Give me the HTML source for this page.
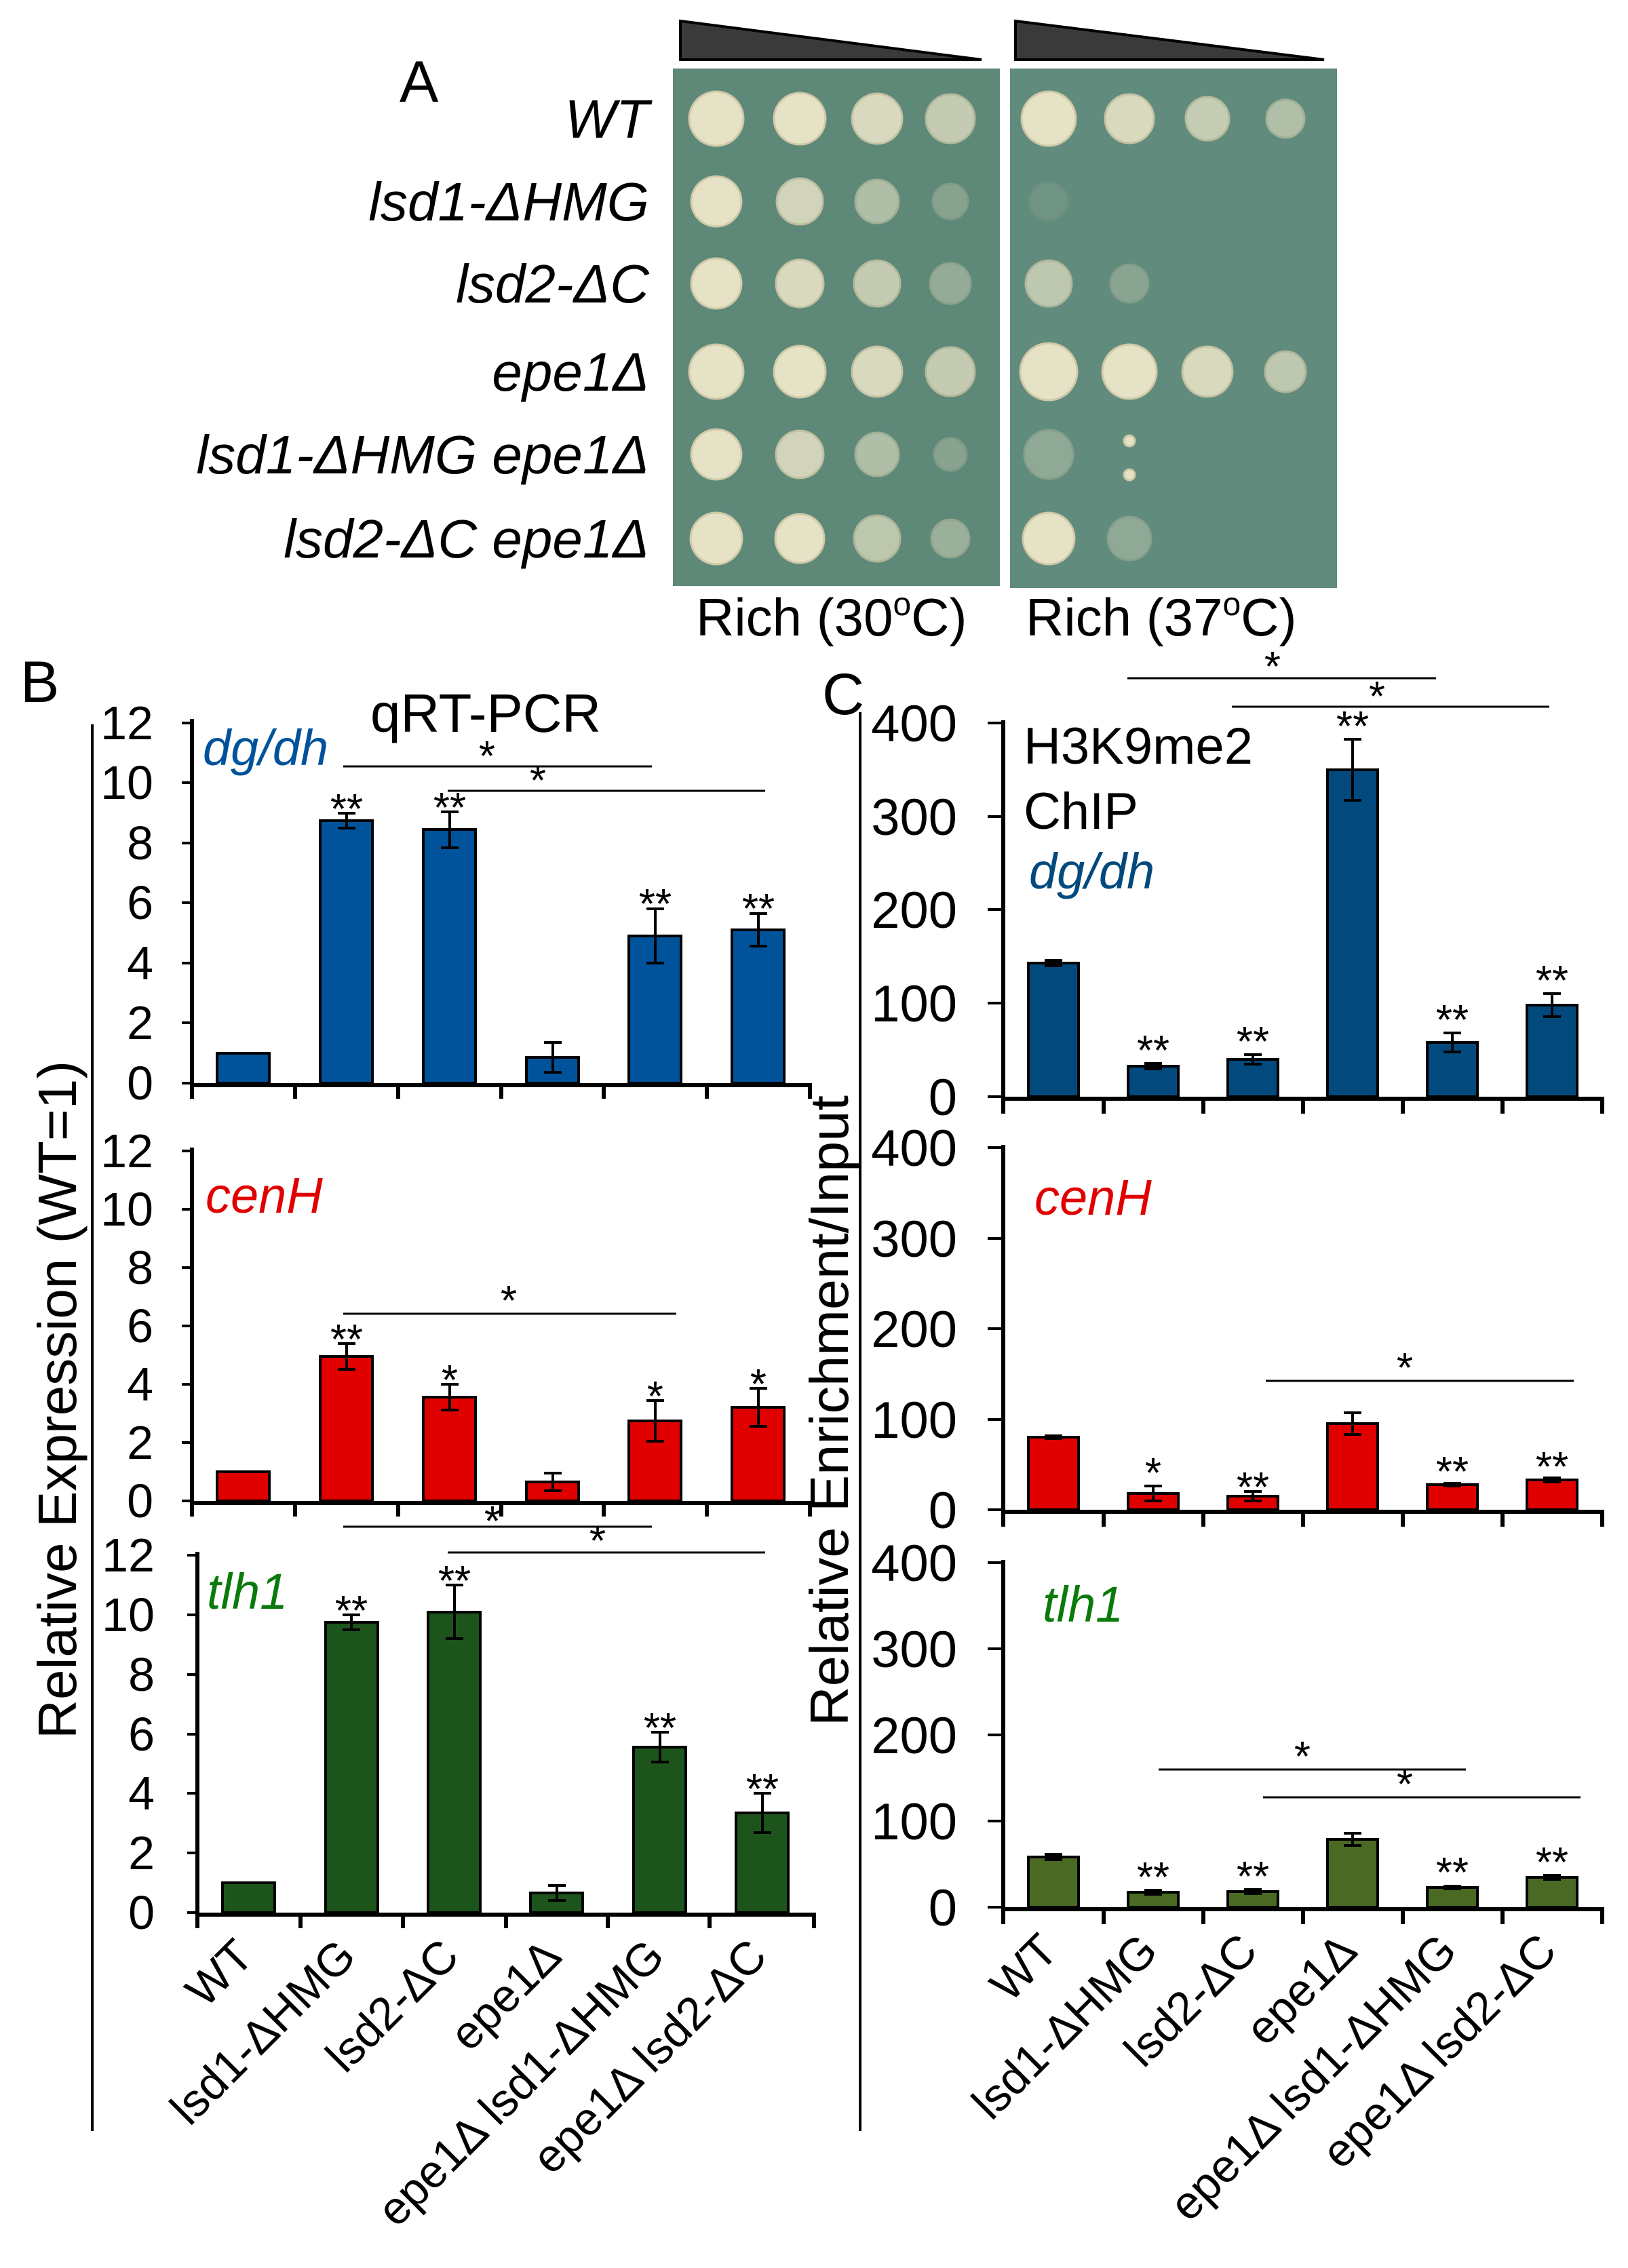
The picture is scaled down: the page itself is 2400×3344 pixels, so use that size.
<!DOCTYPE html>
<html><head><meta charset="utf-8"><style>
html,body{margin:0;padding:0;background:#fff;}
svg{display:block;font-family:"Liberation Sans",Arial,sans-serif;}
</style></head><body>
<svg width="2400" height="3344" viewBox="0 0 2400 3344" xmlns="http://www.w3.org/2000/svg">
<!-- Panel A -->
<text x="589" y="150" font-size="86">A</text>
<polygon points="1003,31 1003,88 1447,88" fill="#3a3a3a" stroke="#000" stroke-width="4"/>
<polygon points="1497,31 1497,88 1952,88" fill="#3a3a3a" stroke="#000" stroke-width="4"/>
<rect x="992" y="101" width="482" height="763" fill="#5e8878"/>
<rect x="1489" y="101" width="482" height="766" fill="#618b7c"/>
<g font-size="80" font-style="italic" text-anchor="end">
<text x="957" y="203">WT</text>
<text x="957" y="325">lsd1-ΔHMG</text>
<text x="957" y="446">lsd2-ΔC</text>
<text x="957" y="576">epe1Δ</text>
<text x="957" y="698">lsd1-ΔHMG epe1Δ</text>
<text x="957" y="822">lsd2-ΔC epe1Δ</text>
</g>
<g fill="#e6e2c6" stroke="#cfc9a8" stroke-width="3">
<circle cx="1056" cy="175" r="40"/><circle cx="1179" cy="175" r="38"/><circle cx="1293" cy="175" r="37" opacity="0.9"/><circle cx="1401" cy="175" r="36" opacity="0.75"/>
<circle cx="1056" cy="297" r="37"/><circle cx="1179" cy="297" r="34" opacity="0.85"/><circle cx="1293" cy="297" r="32" opacity="0.6"/><circle cx="1401" cy="297" r="26" opacity="0.3"/>
<circle cx="1056" cy="418" r="37"/><circle cx="1179" cy="418" r="35" opacity="0.9"/><circle cx="1293" cy="418" r="34" opacity="0.75"/><circle cx="1401" cy="418" r="30" opacity="0.4"/>
<circle cx="1056" cy="548" r="40"/><circle cx="1179" cy="548" r="38"/><circle cx="1293" cy="548" r="37" opacity="0.9"/><circle cx="1401" cy="548" r="36" opacity="0.75"/>
<circle cx="1056" cy="670" r="37"/><circle cx="1179" cy="670" r="35" opacity="0.85"/><circle cx="1293" cy="670" r="32" opacity="0.6"/><circle cx="1401" cy="670" r="24" opacity="0.3"/>
<circle cx="1056" cy="794" r="38"/><circle cx="1179" cy="794" r="36"/><circle cx="1293" cy="794" r="34" opacity="0.7"/><circle cx="1401" cy="794" r="28" opacity="0.45"/>
<circle cx="1546" cy="175" r="40"/><circle cx="1665" cy="175" r="36" opacity="0.9"/><circle cx="1780" cy="175" r="32" opacity="0.75"/><circle cx="1895" cy="175" r="28" opacity="0.6"/>
<circle cx="1546" cy="297" r="28" opacity="0.1"/>
<circle cx="1546" cy="418" r="34" opacity="0.7"/><circle cx="1665" cy="418" r="28" opacity="0.3"/>
<circle cx="1546" cy="548" r="42"/><circle cx="1665" cy="548" r="40"/><circle cx="1780" cy="548" r="37" opacity="0.9"/><circle cx="1895" cy="548" r="30" opacity="0.7"/>
<circle cx="1546" cy="670" r="36" opacity="0.35"/><circle cx="1665" cy="650" r="8"/><circle cx="1665" cy="700" r="8"/>
<circle cx="1546" cy="794" r="38"/><circle cx="1665" cy="794" r="32" opacity="0.35"/>
</g>
<text x="1026" y="937" font-size="78">Rich (30<tspan font-size="48" dy="-30">o</tspan><tspan dy="30">C)</tspan></text>
<text x="1512" y="937" font-size="78">Rich (37<tspan font-size="48" dy="-30">o</tspan><tspan dy="30">C)</tspan></text>

<text x="30" y="1035" font-size="86">B</text>
<text x="1212" y="1053" font-size="86">C</text>

<line x1="136" y1="1068" x2="136" y2="3142" stroke="#000" stroke-width="4"/>
<line x1="1268" y1="1050" x2="1268" y2="3142" stroke="#000" stroke-width="4"/>
<text transform="translate(112,2064) rotate(-90)" font-size="80" text-anchor="middle" textLength="1000" lengthAdjust="spacingAndGlyphs">Relative Expression (WT=1)</text>
<text transform="translate(1250,2080) rotate(-90)" font-size="80" text-anchor="middle" textLength="930" lengthAdjust="spacingAndGlyphs">Relative Enrichment/Input</text>

<!-- ===== B1 ===== -->
<text x="546" y="1079" font-size="80" textLength="340" lengthAdjust="spacingAndGlyphs">qRT-PCR</text>
<text x="299" y="1128" font-size="74" font-style="italic" fill="#00539b">dg/dh</text>
<g stroke="#000" stroke-width="4" fill="#00539b">
<rect x="320" y="1553" width="77" height="44"/>
<rect x="472" y="1210" width="77" height="387"/>
<rect x="624" y="1223" width="77" height="374"/>
<rect x="776" y="1559" width="77" height="38"/>
<rect x="927" y="1380" width="77" height="217"/>
<rect x="1079" y="1371" width="77" height="226"/>
</g>
<g stroke="#000" stroke-width="4" fill="none">
<path d="M511 1199V1221M498 1199H524M498 1221H524"/>
<path d="M663 1197V1250M650 1197H676M650 1250H676"/>
<path d="M815 1537V1581M802 1537H828M802 1581H828"/>
<path d="M966 1340V1420M953 1340H979M953 1420H979"/>
<path d="M1118 1347V1395M1105 1347H1131M1105 1395H1131"/>
<path d="M283 1060V1600H1194" stroke-width="6"/>
<path d="M268 1066H283M268 1154H283M268 1243H283M268 1331H283M268 1420H283M268 1508H283M268 1597H283"/>
<path d="M283 1597V1620M435 1597V1620M587 1597V1620M739 1597V1620M890 1597V1620M1042 1597V1620M1194 1597V1620" stroke-width="6"/>
<path d="M506 1130H961M660 1166H1128" stroke-width="3"/>
</g>
<g font-size="70" text-anchor="end">
<text x="226" y="1090">12</text><text x="226" y="1178">10</text><text x="226" y="1267">8</text><text x="226" y="1355">6</text><text x="226" y="1444">4</text><text x="226" y="1532">2</text><text x="226" y="1621">0</text>
</g>
<g font-size="62" text-anchor="middle">
<text x="511" y="1214">**</text><text x="663" y="1212">**</text><text x="966" y="1354">**</text><text x="1118" y="1361">**</text>
<text x="718" y="1136">*</text><text x="793" y="1172">*</text>
</g>

<!-- ===== B2 ===== -->
<text x="303" y="1788" font-size="74" font-style="italic" fill="#e00000">cenH</text>
<g stroke="#000" stroke-width="4" fill="#e00000">
<rect x="320" y="2170" width="77" height="43"/>
<rect x="472" y="2000" width="77" height="213"/>
<rect x="624" y="2060" width="77" height="153"/>
<rect x="776" y="2185" width="77" height="28"/>
<rect x="927" y="2095" width="77" height="118"/>
<rect x="1079" y="2075" width="77" height="138"/>
</g>
<g stroke="#000" stroke-width="4" fill="none">
<path d="M511 1981V2019M498 1981H524M498 2019H524"/>
<path d="M663 2041V2079M650 2041H676M650 2079H676"/>
<path d="M815 2172V2198M802 2172H828M802 2198H828"/>
<path d="M966 2065V2125M953 2065H979M953 2125H979"/>
<path d="M1118 2047V2103M1105 2047H1131M1105 2103H1131"/>
<path d="M283 1692V2216H1194" stroke-width="6"/>
<path d="M268 1697H283M268 1783H283M268 1869H283M268 1955H283M268 2041H283M268 2127H283M268 2213H283"/>
<path d="M283 2213V2236M435 2213V2236M587 2213V2236M739 2213V2236M890 2213V2236M1042 2213V2236M1194 2213V2236" stroke-width="6"/>
<path d="M506 1937H997" stroke-width="3"/>
</g>
<g font-size="70" text-anchor="end">
<text x="226" y="1721">12</text><text x="226" y="1807">10</text><text x="226" y="1893">8</text><text x="226" y="1979">6</text><text x="226" y="2065">4</text><text x="226" y="2151">2</text><text x="226" y="2237">0</text>
</g>
<g font-size="62" text-anchor="middle">
<text x="511" y="1996">**</text><text x="663" y="2056">*</text><text x="966" y="2080">*</text><text x="1118" y="2062">*</text>
<text x="750" y="1939">*</text>
</g>

<!-- ===== B3 ===== -->
<text x="305" y="2372" font-size="74" font-style="italic" fill="#0a7a0a">tlh1</text>
<g stroke="#000" stroke-width="4" fill="#1d541b">
<rect x="328" y="2776" width="77" height="44"/>
<rect x="480" y="2392" width="77" height="428"/>
<rect x="631" y="2377" width="77" height="443"/>
<rect x="782" y="2791" width="77" height="29"/>
<rect x="934" y="2576" width="77" height="244"/>
<rect x="1085" y="2673" width="77" height="147"/>
</g>
<g stroke="#000" stroke-width="4" fill="none">
<path d="M518 2381V2403M505 2381H531M505 2403H531"/>
<path d="M670 2337V2416M657 2337H683M657 2416H683"/>
<path d="M821 2780V2802M808 2780H834M808 2802H834"/>
<path d="M973 2554V2598M960 2554H986M960 2598H986"/>
<path d="M1124 2644V2702M1111 2644H1137M1111 2702H1137"/>
<path d="M291 2288V2823H1200" stroke-width="6"/>
<path d="M276 2293H291M276 2381H291M276 2469H291M276 2557H291M276 2644H291M276 2732H291M276 2820H291"/>
<path d="M291 2820V2843M443 2820V2843M594 2820V2843M746 2820V2843M896 2820V2843M1046 2820V2843M1200 2820V2843" stroke-width="6"/>
<path d="M506 2251H961M660 2289H1128" stroke-width="3"/>
</g>
<g font-size="70" text-anchor="end">
<text x="228" y="2317">12</text><text x="228" y="2405">10</text><text x="228" y="2493">8</text><text x="228" y="2581">6</text><text x="228" y="2668">4</text><text x="228" y="2756">2</text><text x="228" y="2844">0</text>
</g>
<g font-size="62" text-anchor="middle">
<text x="518" y="2396">**</text><text x="670" y="2352">**</text><text x="973" y="2569">**</text><text x="1124" y="2659">**</text>
<text x="726" y="2264">*</text><text x="881" y="2293">*</text>
</g>
<g font-size="68" text-anchor="end">
<text transform="translate(377,2888) rotate(-45)">WT</text>
<text transform="translate(528,2888) rotate(-45)">lsd1-ΔHMG</text>
<text transform="translate(680,2888) rotate(-45)">lsd2-ΔC</text>
<text transform="translate(831,2888) rotate(-45)">epe1Δ</text>
<text transform="translate(983,2888) rotate(-45)">epe1Δ lsd1-ΔHMG</text>
<text transform="translate(1134,2888) rotate(-45)">epe1Δ lsd2-ΔC</text>
</g>

<!-- ===== C1 ===== -->
<text x="1509" y="1126" font-size="76">H3K9me2</text>
<text x="1509" y="1222" font-size="76">ChIP</text>
<text x="1517" y="1310" font-size="74" font-style="italic" fill="#024a7e">dg/dh</text>
<g stroke="#000" stroke-width="4" fill="#024a7e">
<rect x="1516" y="1420" width="74" height="197"/>
<rect x="1663" y="1572" width="74" height="45"/>
<rect x="1810" y="1562" width="74" height="55"/>
<rect x="1957" y="1135" width="74" height="482"/>
<rect x="2104" y="1537" width="74" height="80"/>
<rect x="2251" y="1482" width="74" height="135"/>
</g>
<g stroke="#000" stroke-width="4" fill="none">
<path d="M1553 1416V1424M1540 1416H1566M1540 1424H1566"/>
<path d="M1700 1568V1576M1687 1568H1713M1687 1576H1713"/>
<path d="M1847 1555V1569M1834 1555H1860M1834 1569H1860"/>
<path d="M1994 1090V1180M1981 1090H2007M1981 1180H2007"/>
<path d="M2141 1523V1551M2128 1523H2154M2128 1551H2154"/>
<path d="M2288 1465V1499M2275 1465H2301M2275 1499H2301"/>
<path d="M1479 1062V1620H2362" stroke-width="6"/>
<path d="M1456 1066H1479M1456 1204H1479M1456 1341H1479M1456 1479H1479M1456 1617H1479"/>
<path d="M1479 1617V1642M1627 1617V1642M1774 1617V1642M1921 1617V1642M2068 1617V1642M2215 1617V1642M2362 1617V1642" stroke-width="6"/>
<path d="M1662 1000H2117M1816 1042H2284" stroke-width="3"/>
</g>
<g font-size="76" text-anchor="end">
<text x="1411" y="1093">400</text><text x="1411" y="1231">300</text><text x="1411" y="1368">200</text><text x="1411" y="1506">100</text><text x="1411" y="1644">0</text>
</g>
<g font-size="62" text-anchor="middle">
<text x="1700" y="1570">**</text><text x="1847" y="1557">**</text><text x="1994" y="1092">**</text><text x="2141" y="1525">**</text><text x="2288" y="1467">**</text>
<text x="1876" y="1004">*</text><text x="2030" y="1048">*</text>
</g>

<!-- ===== C2 ===== -->
<text x="1525" y="1791" font-size="74" font-style="italic" fill="#e00000">cenH</text>
<g stroke="#000" stroke-width="4" fill="#e00000">
<rect x="1516" y="2119" width="74" height="107"/>
<rect x="1663" y="2202" width="74" height="24"/>
<rect x="1810" y="2206" width="74" height="20"/>
<rect x="1957" y="2099" width="74" height="127"/>
<rect x="2104" y="2189" width="74" height="37"/>
<rect x="2251" y="2182" width="74" height="44"/>
</g>
<g stroke="#000" stroke-width="4" fill="none">
<path d="M1540 2117H1566M1540 2121H1566"/>
<path d="M1700 2191V2213M1687 2191H1713M1687 2213H1713"/>
<path d="M1847 2199V2213M1834 2199H1860M1834 2213H1860"/>
<path d="M1994 2083V2115M1981 2083H2007M1981 2115H2007"/>
<path d="M2128 2187H2154M2128 2191H2154"/>
<path d="M2275 2179H2301M2275 2185H2301"/>
<path d="M1479 1688V2229H2362" stroke-width="6"/>
<path d="M1456 1692H1479M1456 1826H1479M1456 1959H1479M1456 2093H1479M1456 2226H1479"/>
<path d="M1479 2226V2251M1627 2226V2251M1774 2226V2251M1921 2226V2251M2068 2226V2251M2215 2226V2251M2362 2226V2251" stroke-width="6"/>
<path d="M1866 2036H2320" stroke-width="3"/>
</g>
<g font-size="76" text-anchor="end">
<text x="1411" y="1719">400</text><text x="1411" y="1853">300</text><text x="1411" y="1986">200</text><text x="1411" y="2120">100</text><text x="1411" y="2253">0</text>
</g>
<g font-size="62" text-anchor="middle">
<text x="1700" y="2193">*</text><text x="1847" y="2214">**</text><text x="2141" y="2191">**</text><text x="2288" y="2184">**</text>
<text x="2071" y="2038">*</text>
</g>

<!-- ===== C3 ===== -->
<text x="1537" y="2391" font-size="74" font-style="italic" fill="#0a7a0a">tlh1</text>
<g stroke="#000" stroke-width="4" fill="#4a6a24">
<rect x="1516" y="2738" width="74" height="74"/>
<rect x="1663" y="2790" width="74" height="22"/>
<rect x="1810" y="2789" width="74" height="23"/>
<rect x="1957" y="2712" width="74" height="100"/>
<rect x="2104" y="2783" width="74" height="29"/>
<rect x="2251" y="2768" width="74" height="44"/>
</g>
<g stroke="#000" stroke-width="4" fill="none">
<path d="M1540 2734H1566M1540 2742H1566"/>
<path d="M1687 2787H1713M1687 2793H1713"/>
<path d="M1834 2786H1860M1834 2792H1860"/>
<path d="M1994 2703V2721M1981 2703H2007M1981 2721H2007"/>
<path d="M2128 2781H2154M2128 2785H2154"/>
<path d="M2275 2765H2301M2275 2771H2301"/>
<path d="M1479 2300V2815H2362" stroke-width="6"/>
<path d="M1456 2304H1479M1456 2431H1479M1456 2558H1479M1456 2685H1479M1456 2812H1479"/>
<path d="M1479 2812V2837M1627 2812V2837M1774 2812V2837M1921 2812V2837M2068 2812V2837M2215 2812V2837M2362 2812V2837" stroke-width="6"/>
<path d="M1708 2609H2161M1862 2650H2330" stroke-width="3"/>
</g>
<g font-size="76" text-anchor="end">
<text x="1411" y="2331">400</text><text x="1411" y="2458">300</text><text x="1411" y="2585">200</text><text x="1411" y="2712">100</text><text x="1411" y="2839">0</text>
</g>
<g font-size="62" text-anchor="middle">
<text x="1700" y="2789">**</text><text x="1847" y="2788">**</text><text x="2141" y="2782">**</text><text x="2288" y="2767">**</text>
<text x="1920" y="2611">*</text><text x="2071" y="2652">*</text>
</g>
<g font-size="68" text-anchor="end">
<text transform="translate(1563,2880) rotate(-45)">WT</text>
<text transform="translate(1710,2880) rotate(-45)">lsd1-ΔHMG</text>
<text transform="translate(1857,2880) rotate(-45)">lsd2-ΔC</text>
<text transform="translate(2004,2880) rotate(-45)">epe1Δ</text>
<text transform="translate(2151,2880) rotate(-45)">epe1Δ lsd1-ΔHMG</text>
<text transform="translate(2298,2880) rotate(-45)">epe1Δ lsd2-ΔC</text>
</g>
</svg>
</body></html>
